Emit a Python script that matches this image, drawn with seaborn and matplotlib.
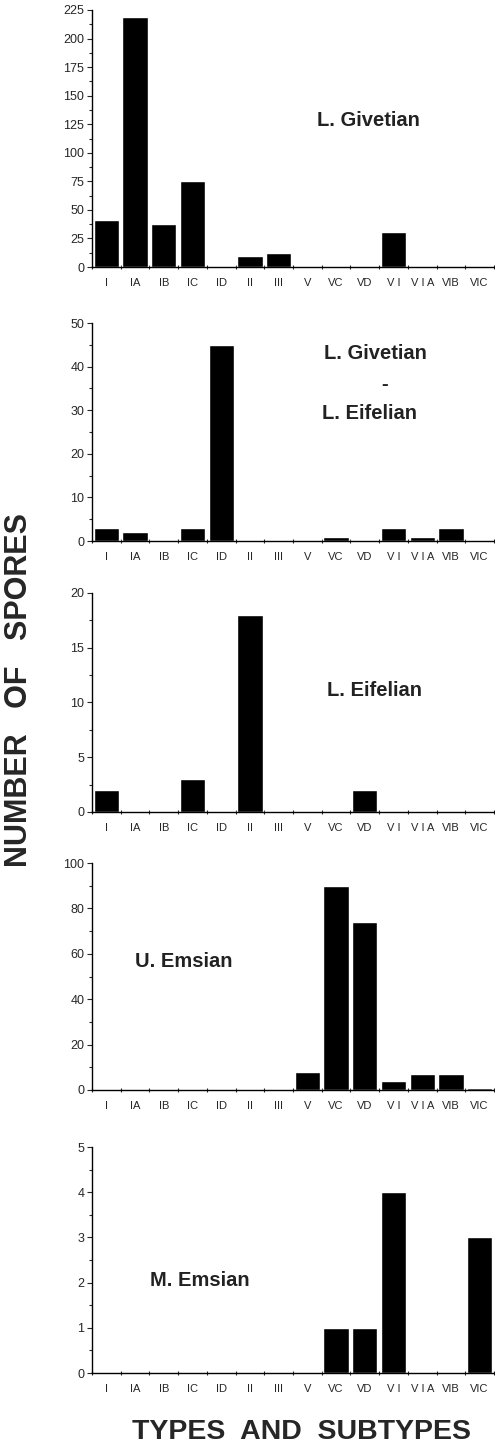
import matplotlib
matplotlib.use("Agg")
import matplotlib.pyplot as plt
import numpy as np
import pandas as pd
import seaborn as sns
from matplotlib.ticker import AutoMinorLocator, FixedLocator

# categories (types and subtypes)
types = ["I", "IA", "IB", "IC", "ID", "II", "III", "V", "VC", "VD", "VI", "VIA", "VIB", "VIC"]
tick_labels = ["I", "IA", "IB", "IC", "ID", "II", "III", "V", "VC", "VD", "V I", "V I A", "VIB", "VIC"]

# spore counts per stage
l_givetian = [41, 219, 38, 75, 0, 10, 12, 0, 0, 0, 31, 0, 0, 0]
givetian_eifelian = [3, 2, 0, 3, 45, 0, 0, 0, 1, 0, 3, 1, 3, 0]
l_eifelian = [2, 0, 0, 3, 0, 18, 0, 0, 0, 2, 0, 0, 0, 0]
u_emsian = [0, 0, 0, 0, 0, 0, 0, 8, 90, 74, 4, 7, 7, 1]
m_emsian = [0, 0, 0, 0, 0, 0, 0, 0, 1, 1, 4, 0, 0, 3]

panels = [
    (l_givetian, 225, 25, ["L. Givetian"], [(0.56, 0.57)]),
    (givetian_eifelian, 50, 10, ["L. Givetian", "-", "L. Eifelian"],
     [(0.578, 0.862), (0.72, 0.716), (0.573, 0.587)]),
    (l_eifelian, 20, 5, ["L. Eifelian"], [(0.585, 0.557)]),
    (u_emsian, 100, 20, ["U. Emsian"], [(0.107, 0.564)]),
    (m_emsian, 5, 1, ["M. Emsian"], [(0.144, 0.41)]),
]

# axes boxes in pixels: (top, bottom)
W, H = 495, 1451
boxes = [(10, 267), (323, 541), (593, 812), (863, 1090), (1147, 1373)]
ax_left, ax_right = 92, 494

sns.set_style("ticks")
plt.rcParams["font.family"] = ["Liberation Sans", "DejaVu Sans"]

fig = plt.figure(figsize=(W / 100, H / 100), dpi=100)

for (vals, ymax, step, labels, positions), (top, bot) in zip(panels, boxes):
    ax = fig.add_axes([ax_left / W, 1 - bot / H, (ax_right - ax_left) / W, (bot - top) / H])
    df = pd.DataFrame({"type": types, "n": vals})
    sns.barplot(data=df, x="type", y="n", order=types, color="black",
                width=0.88, saturation=1, ax=ax)
    ax.set_xlim(-0.5, len(types) - 0.5)
    ax.set_ylim(0, ymax)
    ax.set_yticks(np.arange(0, ymax + step / 2, step))
    ax.yaxis.set_minor_locator(AutoMinorLocator(2))
    ax.xaxis.set_minor_locator(FixedLocator(np.arange(-0.5, len(types), 1)))
    ax.set_xticks(range(len(types)))
    ax.set_xticklabels(tick_labels)
    ax.tick_params(axis="x", which="major", length=0, pad=8, labelsize=8)
    ax.tick_params(axis="x", which="minor", length=2.5, width=0.8, direction="inout")
    ax.tick_params(axis="y", which="major", length=3.5, width=0.8, labelsize=9, pad=2)
    ax.tick_params(axis="y", which="minor", length=2, width=0.8)
    ax.set_xlabel("")
    ax.set_ylabel("")
    sns.despine(ax=ax)
    for s in ("left", "bottom"):
        ax.spines[s].set_linewidth(1.0)
        ax.spines[s].set_color("black")
    for txt, (px, py) in zip(labels, positions):
        ax.text(px, py, txt, transform=ax.transAxes, fontsize=14.5,
                fontweight="bold", ha="left", va="center", color="#222222")

fig.text(19 / W, 1 - 690 / H, "NUMBER   OF   SPORES", rotation=90, ha="center",
         va="center", fontsize=22, fontweight="bold")
fig.text(301 / W, 1 - 1432 / H, "TYPES  AND  SUBTYPES", ha="center",
         va="center", fontsize=20.5, fontweight="bold")

fig.savefig("out.png", dpi=100, facecolor="white")
